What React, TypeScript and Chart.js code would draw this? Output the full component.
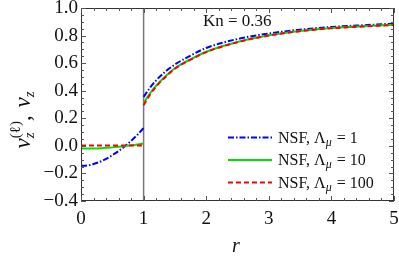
import React, { useEffect, useRef } from "react";
import { Chart, registerables } from "chart.js";

Chart.register(...registerables);

// inner region r in [0,1]
const rInner = [0, 0.1, 0.2, 0.3, 0.4, 0.5, 0.6, 0.7, 0.8, 0.9, 1.0];
const blueInner = [-0.145, -0.142, -0.132, -0.116, -0.095, -0.068, -0.038, -0.003, 0.036, 0.08, 0.13];
const greenInner = [-0.02, -0.02, -0.019, -0.017, -0.014, -0.011, -0.007, -0.002, 0.004, 0.01, 0.017];
const redInner = [0.003, 0.003, 0.003, 0.003, 0.003, 0.003, 0.003, 0.003, 0.003, 0.003, 0.003];

// outer region r in [1,5]
const rOuter = [1, 1.1, 1.2, 1.35, 1.5, 1.75, 2, 2.5, 3, 3.5, 4, 4.5, 5];
const blueOuter = [0.355, 0.42, 0.475, 0.54, 0.59, 0.655, 0.71, 0.775, 0.815, 0.843, 0.862, 0.875, 0.886];
const greenOuter = [0.31, 0.38, 0.437, 0.505, 0.563, 0.628, 0.683, 0.754, 0.802, 0.834, 0.855, 0.868, 0.878];
const redOuter = [0.295, 0.37, 0.43, 0.5, 0.56, 0.625, 0.68, 0.752, 0.8, 0.832, 0.853, 0.866, 0.876];

const seriesNames = ["1", "10", "100"];
const seriesColors = ["#0000ff", "#00e000", "#ff0000"];
const seriesDashes = [[6, 2, 1.5, 2], [], [5, 3]];

const xMin = 0, xMax = 5, yMin = -0.4, yMax = 1.0;
const xMajor = [0, 1, 2, 3, 4, 5];
const yMajor = [-0.4, -0.2, 0, 0.2, 0.4, 0.6, 0.8, 1.0];
const wallR = 1;
const knLabel = "Kn = 0.36";

function pts(rs: number[], vs: number[]) {
  return rs.map((r, i) => ({ x: r, y: vs[i] }));
}
function joined(inner: number[], outer: number[]) {
  return [...pts(rInner, inner), { x: 1, y: null as any }, ...pts(rOuter, outer)];
}

const SERIF = "'Liberation Serif', 'DejaVu Serif', serif";

export default function App() {
  const ref = useRef<HTMLCanvasElement>(null);
  useEffect(() => {
    const canvas = ref.current!;
    const allSeries = [
      joined(blueInner, blueOuter),
      joined(greenInner, greenOuter),
      joined(redInner, redOuter),
    ];
    const datasets: any[] = allSeries.map((d, i) => ({
      data: d,
      borderColor: seriesColors[i],
      borderDash: seriesDashes[i],
      borderWidth: 2,
      pointRadius: 0,
      cubicInterpolationMode: "monotone",
      spanGaps: false,
      fill: false,
      order: 2 - i,
    }));
    datasets.push({
      data: [{ x: wallR, y: yMin }, { x: wallR, y: yMax }],
      borderColor: "#777777",
      borderWidth: 1.5,
      pointRadius: 0,
      order: 5,
    });

    const decor = {
      id: "decor",
      afterDraw(chart: any) {
        const ctx = chart.ctx as CanvasRenderingContext2D;
        const a = chart.chartArea;
        const xs = chart.scales.x, ys = chart.scales.y;
        ctx.save();
        // frame
        ctx.strokeStyle = "#333";
        ctx.lineWidth = 1;
        ctx.strokeRect(a.left + 0.5, a.top + 0.5, a.right - a.left - 1, a.bottom - a.top - 1);
        // ticks
        ctx.strokeStyle = "#555";
        ctx.beginPath();
        for (let k = 0; k <= 25; k++) {
          const v = xMin + k * 0.2;
          const px = Math.round(xs.getPixelForValue(v)) + 0.5;
          const major = k % 5 === 0;
          const len = major ? 5 : 3;
          ctx.moveTo(px, a.bottom); ctx.lineTo(px, a.bottom - len);
          ctx.moveTo(px, a.top); ctx.lineTo(px, a.top + len);
        }
        for (let k = 0; k <= 28; k++) {
          const v = yMin + k * 0.05;
          const py = Math.round(ys.getPixelForValue(v)) + 0.5;
          const major = k % 4 === 0;
          const len = major ? 5 : 3;
          ctx.moveTo(a.left, py); ctx.lineTo(a.left + len, py);
          ctx.moveTo(a.right, py); ctx.lineTo(a.right - len, py);
        }
        ctx.stroke();

        ctx.fillStyle = "#111";
        ctx.textBaseline = "alphabetic";
        // Kn label
        ctx.font = `17px ${SERIF}`;
        ctx.textAlign = "left";
        ctx.fillText(knLabel, 203, 26);

        // legend
        const legY = [137.5, 160, 182.5];
        for (let i = 0; i < 3; i++) {
          const y = legY[i];
          ctx.strokeStyle = seriesColors[i];
          ctx.lineWidth = 2;
          ctx.setLineDash(seriesDashes[i]);
          ctx.beginPath();
          ctx.moveTo(228, y); ctx.lineTo(272, y);
          ctx.stroke();
          ctx.setLineDash([]);
          let x = 278;
          const base = y + 5;
          ctx.font = `16px ${SERIF}`;
          ctx.fillText("NSF, Λ", x, base);
          x += ctx.measureText("NSF, Λ").width;
          ctx.font = `italic 12px ${SERIF}`;
          ctx.fillText("μ", x, base + 3);
          x += ctx.measureText("μ").width + 1;
          ctx.font = `16px ${SERIF}`;
          ctx.fillText(" = " + seriesNames[i], x, base);
        }

        // x title
        ctx.font = `italic 20px ${SERIF}`;
        ctx.textAlign = "center";
        ctx.fillText("r", 236, 252);

        // y title
        ctx.translate(30, 120);
        ctx.rotate(-Math.PI / 2);
        ctx.textAlign = "left";
        const fMain = `italic 23px ${SERIF}`;
        const fSub = `italic 15px ${SERIF}`;
        const fSup = `15px ${SERIF}`;
        const fComma = `23px ${SERIF}`;
        ctx.font = fMain; const wv = ctx.measureText("v").width;
        ctx.font = fSub; const wz = ctx.measureText("z").width;
        ctx.font = fSup; const wl = ctx.measureText("(ℓ)").width;
        ctx.font = fComma; const wc = ctx.measureText(", ").width + 2;
        const total = wv + Math.max(wz, wl) + wc + wv + wz;
        let x = -total / 2;
        ctx.font = fMain; ctx.fillText("v", x, 0); x += wv;
        ctx.font = fSub; ctx.fillText("z", x, 4);
        ctx.font = fSup; ctx.fillText("(ℓ)", x, -10);
        x += Math.max(wz, wl);
        ctx.font = fComma; ctx.fillText(",", x, 0); x += wc;
        ctx.font = fMain; ctx.fillText("v", x, 0); x += wv;
        ctx.font = fSub; ctx.fillText("z", x, 4);
        ctx.restore();
      },
    };

    const chart = new Chart(canvas, {
      type: "line",
      data: { datasets },
      options: {
        animation: false,
        responsive: false,
        maintainAspectRatio: false,
        layout: { padding: { left: 0, top: 8, right: 5, bottom: 0 } },
        plugins: { legend: { display: false }, tooltip: { enabled: false } },
        scales: {
          x: {
            type: "linear",
            min: xMin,
            max: xMax,
            afterFit: (s: any) => { s.height = 56; s.paddingLeft = 0; s.paddingRight = 0; },
            afterBuildTicks: (s: any) => { s.ticks = xMajor.map((v) => ({ value: v })); },
            grid: { display: false, drawTicks: false },
            border: { display: false },
            ticks: {
              color: "#111",
              padding: 7,
              maxRotation: 0,
              font: { family: SERIF, size: 19 },
              callback: (v: any) => String(v),
            },
          },
          y: {
            type: "linear",
            min: yMin,
            max: yMax,
            afterFit: (s: any) => { s.width = 81; s.paddingTop = 0; s.paddingBottom = 0; },
            afterBuildTicks: (s: any) => { s.ticks = yMajor.map((v) => ({ value: v })); },
            grid: { display: false, drawTicks: false },
            border: { display: false },
            ticks: {
              color: "#111",
              padding: 3,
              font: { family: SERIF, size: 19 },
              callback: (v: any) => {
                const n = Number(v);
                const s = Math.abs(n).toFixed(1);
                return n < -1e-9 ? "\u2212" + s : s;
              },
            },
          },
        },
      },
      plugins: [decor],
    } as any);
    return () => chart.destroy();
  }, []);
  return (
    <div style={{ position: "fixed", left: 0, top: 0, width: 399, height: 257, background: "#fff" }}>
      <canvas ref={ref} width={399} height={257} />
    </div>
  );
}
